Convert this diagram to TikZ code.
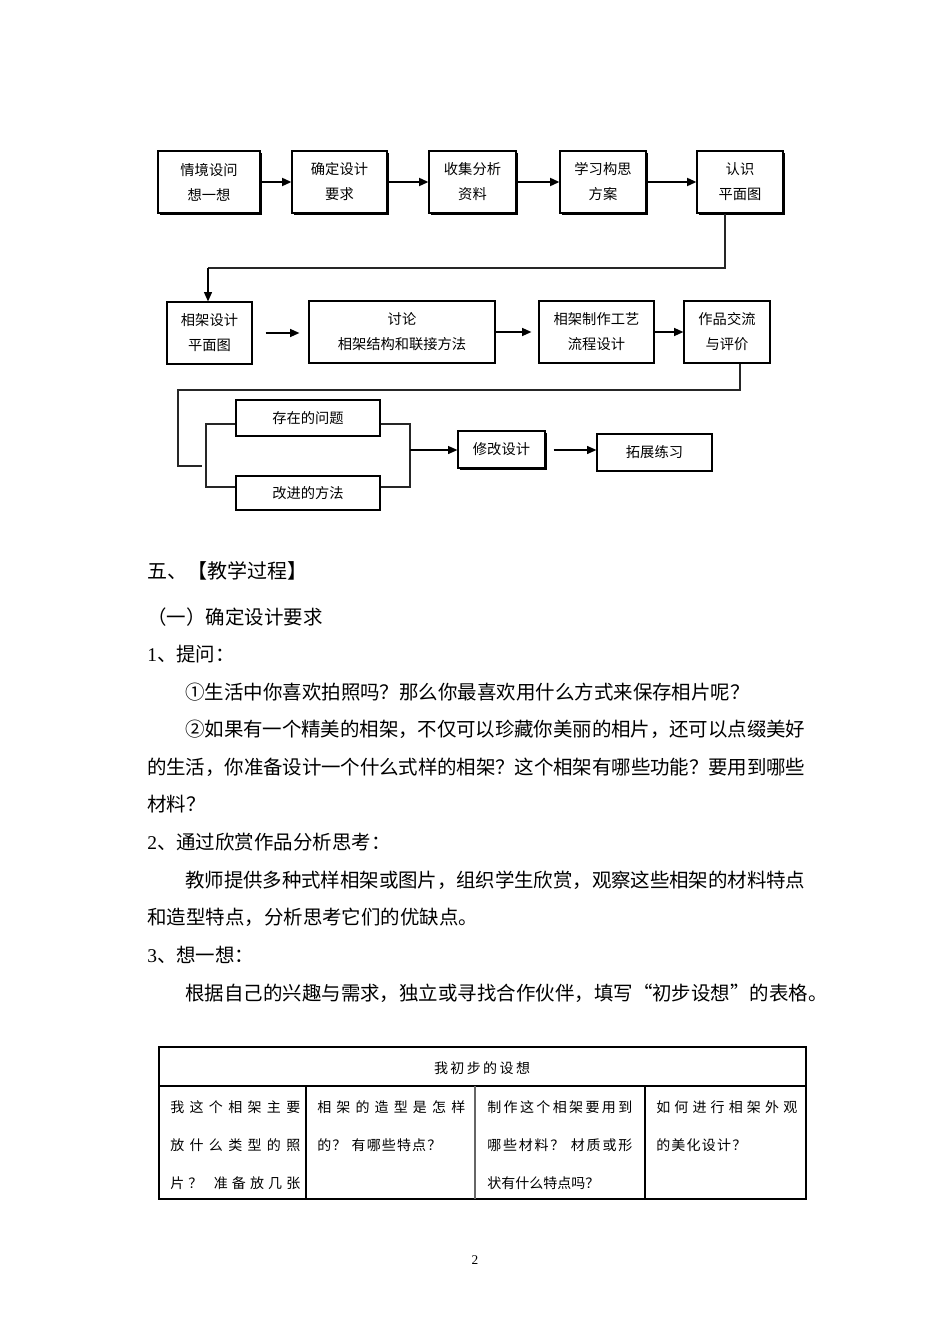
\documentclass[tikz,border=0pt]{standalone}
\usepackage{fontspec}
\setmainfont{Noto Sans CJK SC}
\newfontfamily\numfont{Liberation Serif}
\usetikzlibrary{arrows.meta,shadows}
\newlength\pxu
\setlength\pxu{0.75pt}
\def\spreadA#1{#1\spreadB}
\def\spreadB#1{\ifx\relax#1\else\hskip 0pt plus 1fil minus 0.2pt\relax#1\expandafter\spreadB\fi}
\newcommand\jl[2]{\makebox[#1\pxu][s]{\spreadA#2\relax}}
\newcommand\boxfont{\fontsize{10.7}{18.75}\selectfont}
\newcommand\bodyfont{\fontsize{14.6}{18}\selectfont}
\newcommand\cellfont{\fontsize{10.5}{12}\selectfont}

\begin{document}
\begin{tikzpicture}[
    x=0.75pt, y=-0.75pt,
    box/.style={draw, line width=0.9pt, inner sep=0pt, align=center, font=\boxfont, fill=white},
    sbox/.style={box, drop shadow={shadow xshift=1.3pt, shadow yshift=-1.3pt, opacity=1, fill=black}},
    sz/.style 2 args={minimum width=#1*0.75pt, minimum height=#2*0.75pt},
    arr/.style={line width=1.1pt, -{Triangle[length=7pt,width=6pt]}},
    link/.style={line width=0.8pt, black!85},
    txt/.style={anchor=west, inner sep=0pt, font=\bodyfont},
    cell/.style={anchor=west, inner sep=0pt, font=\cellfont}
  ]
  \path[fill=white, use as bounding box] (0,0) rectangle (950,1344);

  \node[sbox, sz={102}{62}] (b1) at (209,182) {情境设问\\想一想};
  \node[sbox, sz={95}{62}] (b2) at (339.5,182) {确定设计\\要求};
  \node[sbox, sz={87}{62}] (b3) at (472.5,182) {收集分析\\资料};
  \node[sbox, sz={86}{62}] (b4) at (603,182) {学习构思\\方案};
  \node[sbox, sz={86}{62}] (b5) at (740,182) {认识\\平面图};
  \draw[arr, line width=1.3pt] (b1) -- (b2);
  \draw[arr, line width=1.3pt] (b2) -- (b3);
  \draw[arr, line width=1.3pt] (b3) -- (b4);
  \draw[arr, line width=1.3pt] (b4) -- (b5);

  \node[box, sz={85}{62}] (b6) at (209.5,333) {相架设计\\平面图};
  \node[box, sz={186}{62}] (b7) at (402,332) {讨论\\相架结构和联接方法};
  \node[box, sz={115}{62}] (b8) at (596.5,332) {相架制作工艺\\流程设计};
  \node[box, sz={86}{62}] (b9) at (727,332) {作品交流\\与评价};
  \coordinate (c1) at (725,268);
  \coordinate (c2) at (208,268);
  \draw[link] (b5.south -| c1) -- (c1) -- (c2);
  \draw[arr, line width=0.9pt] (c2) -- (c2 |- b6.north);
  \draw[arr, shorten <=9.75pt, shorten >=6.75pt] (b6.east) -- (b6.east -| b7.west);
  \draw[arr, shorten >=5.25pt] (b7) -- (b8);
  \draw[arr] (b8) -- (b9);

  \node[box, sz={144}{36}] (p1) at (308,418) {存在的问题};
  \node[box, sz={144}{34}] (p2) at (308,493) {改进的方法};
  \node[sbox, sz={87}{37}] (m1) at (501.5,449.5) {修改设计};
  \node[box, sz={115}{37}] (m2) at (654.5,452.5) {拓展练习};
  \coordinate (c3) at (740,390);
  \coordinate (c4) at (178,390);
  \coordinate (c5) at (178,466);
  \coordinate (c6) at (202,466);
  \draw[link] (b9.south -| c3) -- (c3) -- (c4) -- (c5) -- (c6);
  \coordinate (l1) at (206,424);
  \coordinate (l2) at (206,487);
  \coordinate (r1) at (410,424);
  \coordinate (r2) at (410,487);
  \coordinate (r3) at (410,450);
  \draw[link] (p1.west |- l1) -- (l1) -- (l2) -- (p2.west |- l2);
  \draw[link] (p1.east |- r1) -- (r1) -- (r2) -- (p2.east |- r2);
  \draw[arr, line width=0.9pt] (r3) -- (r3 -| m1.west);
  \draw[arr, line width=0.9pt, shorten <=6pt] (m1.east |- r3) -- (r3 -| m2.west);

  \node[txt, font=\fontsize{15}{18}\selectfont] (h1) at (147,571) {五、【教学过程】};
  \node[txt] (h2) at (147,617) {（一）确定设计要求};
  \node[txt] (s1) at (147,654) {{\numfont 1}、提问：};
  \node[txt] (q1) at (185,692) {①生活中你喜欢拍照吗？那么你最喜欢用什么方式来保存相片呢？};
  \node[txt] (q2) at (185,729) {\jl{620}{②如果有一个精美的相架，不仅可以珍藏你美丽的相片，还可以点缀美好}};
  \node[txt] (q3) at (147,767) {\jl{658}{的生活，你准备设计一个什么式样的相架？这个相架有哪些功能？要用到哪些}};
  \node[txt] (q4) at (147,804) {材料？};
  \node[txt] (s2) at (147,842) {{\numfont 2}、通过欣赏作品分析思考：};
  \node[txt] (q5) at (185,880) {\jl{620}{教师提供多种式样相架或图片，组织学生欣赏，观察这些相架的材料特点}};
  \node[txt] (q6) at (147,917) {和造型特点，分析思考它们的优缺点。};
  \node[txt] (s3) at (147,955) {{\numfont 3}、想一想：};
  \node[txt] (q7) at (185,993) {根据自己的兴趣与需求，独立或寻找合作伙伴，填写“初步设想”的表格。};

  \draw[line width=1pt] (159,1047) rectangle (806,1199);
  \draw[line width=0.8pt] (159,1086) -- (806,1086);
  \draw[line width=0.8pt] (306,1086) -- (306,1199);
  \draw[line width=1.4pt, black!60] (475,1086) -- (475,1199);
  \draw[line width=0.8pt] (645,1086) -- (645,1199);
  \node[inner sep=0pt, font=\cellfont] (th) at (482,1068) {\jl{96}{我初步的设想}};
  \node[cell] (a1) at (170,1107) {\jl{130}{我这个相架主要}};
  \node[cell] (a2) at (170,1145) {\jl{130}{放什么类型的照}};
  \node[cell] (a3) at (170,1183) {\jl{130}{片？\ 准备放几张}};
  \node[cell] (e1) at (317,1107) {\jl{148}{相架的造型是怎样}};
  \node[cell] (e2) at (317,1145) {\jl{124}{的？\ 有哪些特点？}};
  \node[cell] (f1) at (487,1107) {\jl{145}{制作这个相架要用到}};
  \node[cell] (f2) at (487,1145) {\jl{145}{哪些材料？\ 材质或形}};
  \node[cell] (f3) at (487,1183) {\jl{112}{状有什么特点吗？}};
  \node[cell] (g1) at (656,1107) {\jl{141}{如何进行相架外观}};
  \node[cell] (g2) at (656,1145) {\jl{90}{的美化设计？}};

  \node[inner sep=0pt, font=\numfont\fontsize{10}{12}\selectfont] (pg) at (475,1260) {2};
\end{tikzpicture}
\end{document}
